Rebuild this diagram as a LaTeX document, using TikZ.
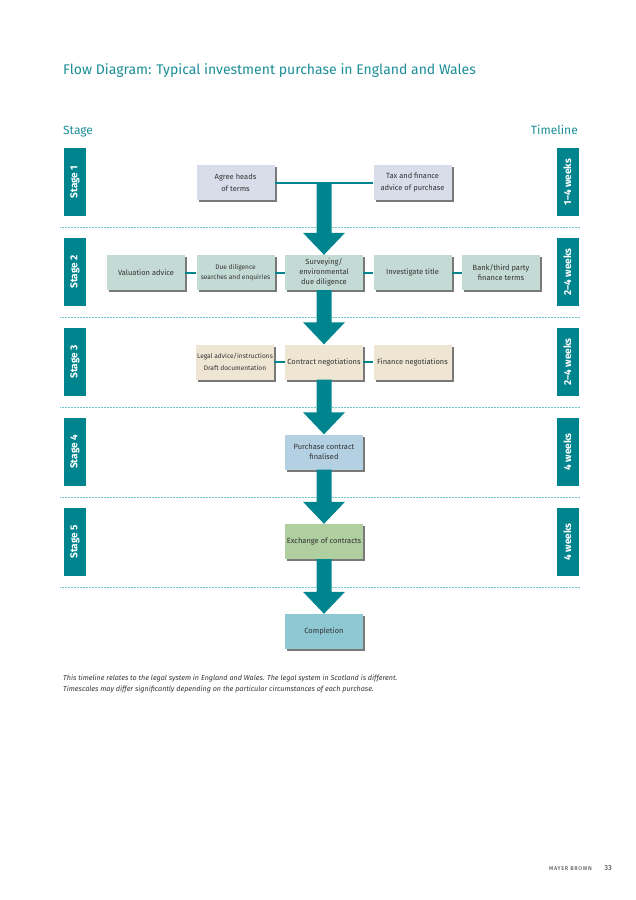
\documentclass[tikz,border=0pt]{standalone}
\usepackage{fontspec}
\setmainfont{Fira Sans}
\usetikzlibrary{calc,shadows}
\definecolor{flowteal}{HTML}{00858F}
\definecolor{titleteal}{HTML}{1B8E98}
\definecolor{ruleteal}{HTML}{72C4CC}
\definecolor{boxtext}{HTML}{333333}
\definecolor{headsfill}{HTML}{D9DDEA}
\definecolor{checkfill}{HTML}{C4DAD4}
\definecolor{negofill}{HTML}{EEE6D3}
\definecolor{finalfill}{HTML}{B4D0E3}
\definecolor{exchfill}{HTML}{AFCFA0}
\definecolor{donefill}{HTML}{8EC8D2}
% thick block arrow between two stages
\newcommand\flowarrow[2]{%
  \fill[flowteal] ($(#1)+(-7.5,0)$) -- ($(#2)+(-7.5,-22)$) -- ($(#2)+(-21,-22)$) -- (#2)
    -- ($(#2)+(21,-22)$) -- ($(#2)+(7.5,-22)$) -- ($(#1)+(7.5,0)$) -- cycle;}
\begin{document}
\begin{tikzpicture}[x=1pt,y=-1pt,
    stepbox/.style={minimum width=78pt,minimum height=35pt,inner sep=1pt,align=center,
      text=boxtext,font=\fontsize{7.5}{10}\selectfont,
      drop shadow={shadow xshift=2pt,shadow yshift=-2pt,fill=black!75,opacity=.7}},
    wide/.style={font=\fontsize{7.5}{12}\selectfont},
    tight/.style={font=\fontsize{6.6}{10}\selectfont},
    link/.style={flowteal,line width=2pt},
    stagebar/.style={fill=flowteal,text=white,rotate=90,minimum width=68pt,minimum height=22pt,
      inner sep=0pt,font=\bfseries\fontsize{10}{10}\selectfont},
    stagerule/.style={ruleteal,line width=1pt,dash pattern=on .7pt off .8pt}]
\useasboundingbox (0,0) rectangle (636,900);

\node[anchor=base west,inner sep=0,text=titleteal,font=\fontsize{14}{16}\selectfont] (heading) at (63,74)
  {Flow Diagram: Typical investment purchase in England and Wales};
\node[anchor=base west,inner sep=0,text=titleteal,font=\fontsize{12}{14}\selectfont] (stagehead) at (63,134) {Stage};
\node[anchor=base east,inner sep=0,text=titleteal,font=\fontsize{12}{14}\selectfont] (timehead) at (578,134) {Timeline};

% stages and timeline
\foreach \n/\t/\y in {1/1--4 weeks/182,2/2--4 weeks/272,3/2--4 weeks/362,4/4 weeks/452,5/4 weeks/542}{
  \node[stagebar] (stage\n) at (75,\y) {Stage \n};
  \node[stagebar] (time\n) at (567.5,\y) {\t};
}
\foreach \y in {227,317,407,497,587}{\draw[stagerule] (60,\y) -- (580,\y);}

% stage 1
\node[stepbox,wide,fill=headsfill] (agree) at (235.5,182.5) {Agree heads\\of terms};
\node[stepbox,wide,fill=headsfill] (tax) at (412.5,182.5) {Tax and finance\\advice of purchase};
% stage 2
\node[stepbox,fill=checkfill] (valuation) at (146,272.5) {Valuation advice};
\node[stepbox,tight,fill=checkfill] (duedil) at (235.5,272.5) {Due diligence\\searches and enquiries};
\node[stepbox,fill=checkfill] (survey) at (324,272.5) {Surveying/\\environmental\\due diligence};
\node[stepbox,fill=checkfill] (invtitle) at (412.5,272.5) {Investigate title};
\node[stepbox,fill=checkfill] (bank) at (501,272.5) {Bank/third party\\finance terms};
% stage 3
\node[stepbox,tight,font=\fontsize{6.6}{12}\selectfont,fill=negofill] (legal) at (235,362) {Legal advice/instructions\\Draft documentation};
\node[stepbox,fill=negofill] (contract) at (324,362) {Contract negotiations};
\node[stepbox,fill=negofill] (finneg) at (412.5,362) {Finance negotiations};
% stage 4, 5
\node[stepbox,fill=finalfill] (purchase) at (324,452) {Purchase contract\\finalised};
\node[stepbox,fill=exchfill] (exchange) at (324,541.5) {Exchange of contracts};
\node[stepbox,fill=donefill] (completion) at (324,631.5) {Completion};

\draw[link] (agree) -- (tax);
\draw[link] (valuation) -- (duedil);
\draw[link] (duedil) -- (survey);
\draw[link] (survey) -- (invtitle);
\draw[link] (invtitle) -- (bank);
\draw[link] (legal) -- (contract);
\draw[link] (contract) -- (finneg);

\coordinate (hub) at ($(agree.east)!.5!(tax.west)$);
\flowarrow{hub}{survey.north}
\flowarrow{survey.south}{contract.north}
\flowarrow{contract.south}{purchase.north}
\flowarrow{purchase.south}{exchange.north}
\flowarrow{exchange.south}{completion.north}

\node[anchor=base west,inner sep=0,text=boxtext,font=\itshape\fontsize{7.2}{8}\selectfont] (note1) at (63,680)
  {This timeline relates to the legal system in England and Wales. The legal system in Scotland is different.};
\node[anchor=base west,inner sep=0,text=boxtext,font=\itshape\fontsize{7.2}{8}\selectfont] (note2) at (63,691)
  {Timescales may differ significantly depending on the particular circumstances of each purchase.};

\node[anchor=base east,inner sep=0,text=boxtext,font=\fontsize{5.5}{7}\selectfont\addfontfeatures{LetterSpace=12}] (brand) at (592,870) {MAYER BROWN};
\node[anchor=base east,inner sep=0,text=boxtext,font=\fontsize{7.5}{9}\selectfont] (pageno) at (612,870) {33};
\end{tikzpicture}
\end{document}
